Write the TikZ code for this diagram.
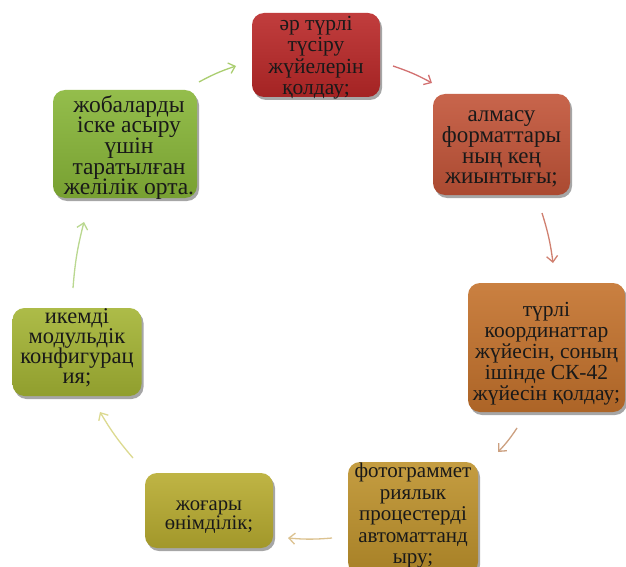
\documentclass[tikz,border=0pt]{standalone}
\usepackage{fontspec}
\setmainfont{Liberation Serif}
\usetikzlibrary{arrows.meta,shadows}
\definecolor{cA}{RGB}{186,40,40}
\definecolor{cB}{RGB}{194,84,56}
\definecolor{cC}{RGB}{196,114,44}
\definecolor{cD}{RGB}{190,146,44}
\definecolor{cE}{RGB}{184,172,48}
\definecolor{cF}{RGB}{164,180,52}
\definecolor{cG}{RGB}{136,182,56}
\definecolor{aA}{RGB}{170,206,112}
\definecolor{aB}{RGB}{210,112,112}
\definecolor{aC}{RGB}{208,128,112}
\definecolor{aD}{RGB}{204,160,128}
\definecolor{aE}{RGB}{220,194,144}
\definecolor{aF}{RGB}{220,218,144}
\definecolor{aG}{RGB}{186,216,144}
% #1 font size, #2 line skip, #3 raise, #4 right shift, #5 lines
\newcommand\boxlines[5]{\makebox[0pt][c]{\kern#4\kern#4\raisebox{#3}[0pt][0pt]{%
  \parbox[c]{220pt}{\centering\fontsize{#1}{#2}\selectfont\lineskiplimit=-60pt\relax #5}}}}
\begin{document}
\begin{tikzpicture}[x=1pt,y=-1pt,
  box/.style={rectangle, rounded corners=12pt, inner sep=0pt, align=center,
    text=black!90,
    top color=#1!90!white, bottom color=#1!88!black,
    drop shadow={shadow xshift=2pt, shadow yshift=-3pt, opacity=0.35, fill=black}},
  conn/.style={line width=1.3pt, draw=#1, -{Straight Barb[length=6pt,width=11pt]}},
]
\useasboundingbox (0,0) rectangle (626,567);
\fill[white] (0,0) rectangle (626,567);

\node[box=cA, minimum width=128pt, minimum height=84pt] (b1) at (316,55)
  {\boxlines{21.5}{21.5}{-5pt}{0pt}{әр түрлі\\түсіру\\жүйелерін\\қолдау;}};
\node[box=cB, minimum width=137pt, minimum height=101pt] (b2) at (501.5,144.5)
  {\boxlines{23}{20.7}{-7pt}{0pt}{алмасу\\форматтары\\ның кең\\жиынтығы;}};
\node[box=cC, minimum width=157pt, minimum height=129pt] (b3) at (546.5,347.5)
  {\boxlines{21.5}{21}{-9pt}{0pt}{түрлі\\координаттар\\жүйесін, соның\\ішінде СК-42\\жүйесін қолдау;}};
\node[box=cD, minimum width=130pt, minimum height=112pt] (b4) at (413,518)
  {\boxlines{21}{21.5}{0pt}{0pt}{фотограммет\\риялык\\процестерді\\автоматтанд\\ыру;}};
\node[box=cE, minimum width=128pt, minimum height=75pt] (b5) at (209,510.5)
  {\boxlines{20.7}{18.5}{-9pt}{0pt}{жоғары\\өнімділік;}};
\node[box=cF, minimum width=129pt, minimum height=88pt] (b6) at (77,352)
  {\boxlines{22.5}{20}{1.5pt}{0pt}{икемді\\модульдік\\конфигурац\\ия;}};
\node[box=cG, minimum width=144pt, minimum height=108pt] (b7) at (125,144)
  {\boxlines{23.5}{20.7}{-6pt}{4pt}{жобаларды\\іске асыру\\үшін\\таратылған\\желілік орта.}};

\coordinate (t71) at (199,82);  \coordinate (h71) at (236,66);
\coordinate (t12) at (393,66);  \coordinate (h12) at (432,83);
\coordinate (t23) at (542,213); \coordinate (h23) at (553,263);
\coordinate (t34) at (517,428); \coordinate (h34) at (498,452);
\coordinate (t45) at (332,538); \coordinate (h45) at (288,538);
\coordinate (t56) at (133,458); \coordinate (h56) at (100,412);
\coordinate (t67) at (73,288);  \coordinate (h67) at (84,222);

\draw[conn=aA] (t71) to[bend left=5] (h71);
\draw[conn=aB] (t12) to[bend left=5] (h12);
\draw[conn=aC] (t23) to[bend left=5] (h23);
\draw[conn=aD] (t34) to[bend left=5] (h34);
\draw[conn=aE] (t45) to[bend left=5] (h45);
\draw[conn=aF] (t56) to[bend left=5] (h56);
\draw[conn=aG] (t67) to[bend left=5] (h67);
\end{tikzpicture}
\end{document}
